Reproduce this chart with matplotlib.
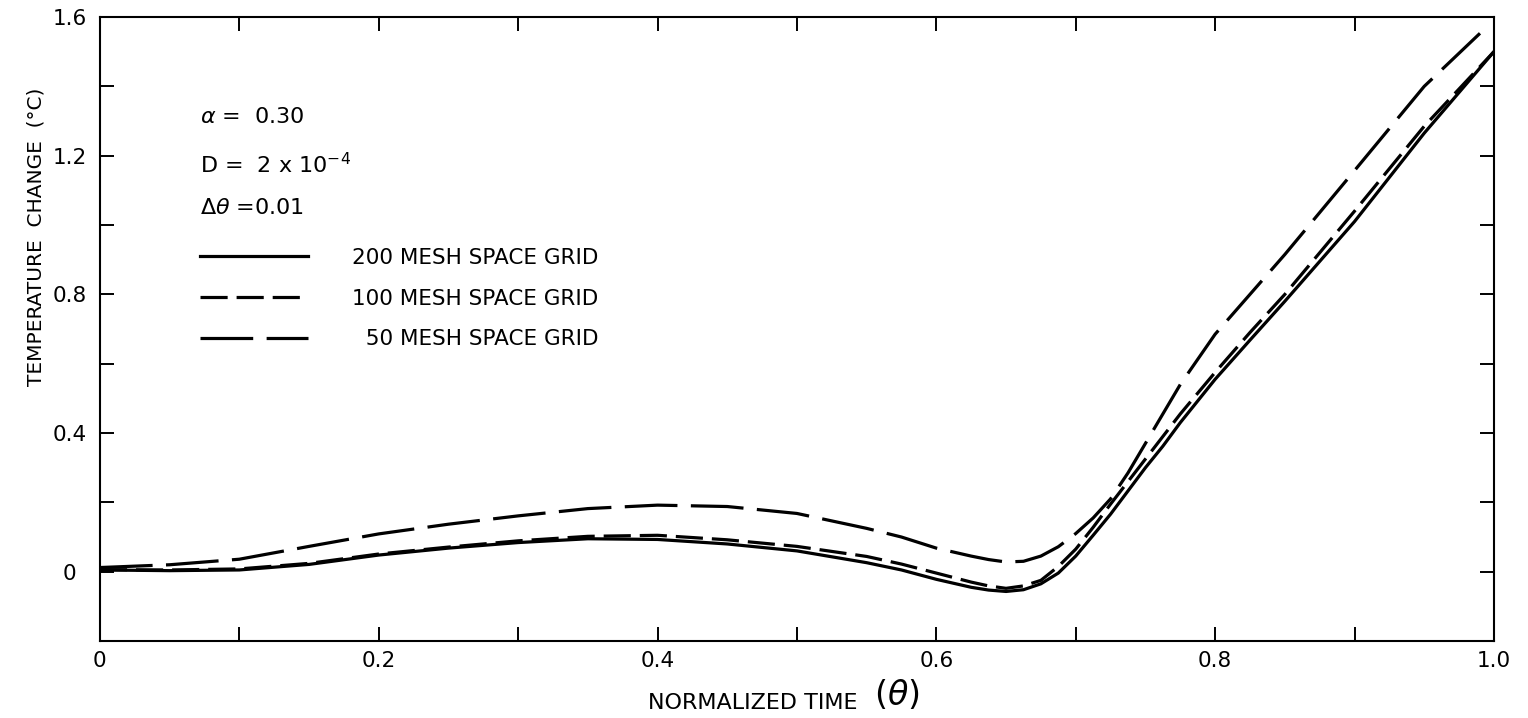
import matplotlib
matplotlib.use("Agg")
import matplotlib.pyplot as plt
from matplotlib.ticker import MultipleLocator

plt.rcParams['font.family'] = ['DejaVu Sans']

# normalized time grid and temperature change for each mesh size
theta = [0.0, 0.05, 0.1, 0.15, 0.2, 0.25, 0.3, 0.35, 0.4, 0.45, 0.5, 0.55, 0.575,
         0.6, 0.625, 0.6375, 0.65, 0.6625, 0.675, 0.6875, 0.7, 0.7125, 0.725,
         0.7375, 0.75, 0.7625, 0.775, 0.8, 0.825, 0.85, 0.9, 0.95, 1.0]
mesh200 = [0.005, 0.003, 0.005, 0.021, 0.048, 0.068, 0.084, 0.095, 0.093, 0.080,
           0.060, 0.026, 0.005, -0.022, -0.045, -0.053, -0.057, -0.052, -0.035,
           -0.004, 0.045, 0.105, 0.166, 0.233, 0.300, 0.362, 0.430, 0.555, 0.668,
           0.780, 1.010, 1.265, 1.500]
mesh100 = [0.006, 0.005, 0.008, 0.024, 0.051, 0.071, 0.089, 0.102, 0.105, 0.092,
           0.073, 0.044, 0.022, -0.004, -0.030, -0.041, -0.048, -0.041, -0.025,
           0.015, 0.065, 0.128, 0.195, 0.260, 0.325, 0.390, 0.455, 0.575, 0.690,
           0.800, 1.040, 1.285, 1.500]
theta50 = theta[:-1] + [0.99]
mesh50 = [0.012, 0.020, 0.036, 0.073, 0.109, 0.137, 0.161, 0.182, 0.192, 0.188,
          0.168, 0.125, 0.100, 0.068, 0.045, 0.035, 0.028, 0.030, 0.045, 0.072,
          0.110, 0.155, 0.210, 0.285, 0.370, 0.455, 0.540, 0.685, 0.800, 0.915,
          1.157, 1.400, 1.553]

xticks = [0, 0.2, 0.4, 0.6, 0.8, 1.0]
xtick_labels = ['0', '0.2', '0.4', '0.6', '0.8', '1.0']
yticks = [0, 0.4, 0.8, 1.2, 1.6]
ytick_labels = ['0', '0.4', '0.8', '1.2', '1.6']

fig = plt.figure(figsize=(15.28, 7.18), dpi=100)
ax = fig.add_axes([0.0654, 0.1072, 0.9123, 0.8691])

lw = 2.3
ax.plot(theta, mesh200, color='black', lw=lw, solid_joinstyle='round',
        label='200 MESH SPACE GRID')
ax.plot(theta, mesh100, color='black', lw=lw, dashes=(8.5, 2.8),
        label='100 MESH SPACE GRID')
ax.plot(theta50, mesh50, color='black', lw=lw, dashes=(16.5, 4.2),
        label='  50 MESH SPACE GRID')

ax.set_xlim(0, 1.0)
ax.set_ylim(-0.2, 1.6)
ax.set_xticks(xticks)
ax.set_xticklabels(xtick_labels)
ax.set_yticks(yticks)
ax.set_yticklabels(ytick_labels, ha='center')
ax.xaxis.set_minor_locator(MultipleLocator(0.1))
ax.yaxis.set_minor_locator(MultipleLocator(0.2))
ax.tick_params(which='both', direction='in', length=10, width=1.4,
               top=True, right=True, labelsize=15.5)
ax.tick_params(axis='x', pad=7)
ax.tick_params(axis='y', pad=22)
for s in ax.spines.values():
    s.set_linewidth(1.5)

ax.set_ylabel('TEMPERATURE  CHANGE  (°C)', fontsize=14.5)
ax.yaxis.set_label_coords(-0.039, 0.647)
ax.set_xlabel('NORMALIZED TIME', fontsize=16)
ax.xaxis.set_label_coords(0.468, -0.084)
ax.text(0.572, -0.087, r'$(\theta)$', transform=ax.transAxes,
        fontsize=24, ha='center', va='center')

ax.text(0.0717, 0.840, r'$\alpha$ =  0.30', transform=ax.transAxes,
        fontsize=16, va='center')
ax.text(0.0717, 0.764, r'D =  2 x 10$^{-4}$', transform=ax.transAxes,
        fontsize=16, va='center')
ax.text(0.0717, 0.694, r'$\Delta\theta$ =0.01', transform=ax.transAxes,
        fontsize=16, va='center')

ax.legend(loc='upper left', bbox_to_anchor=(0.0717, 0.630), frameon=False,
          fontsize=15.5, handlelength=5.0, handletextpad=2.05, labelspacing=0.96,
          borderpad=0, borderaxespad=0)

fig.savefig('out.png', dpi=100)
